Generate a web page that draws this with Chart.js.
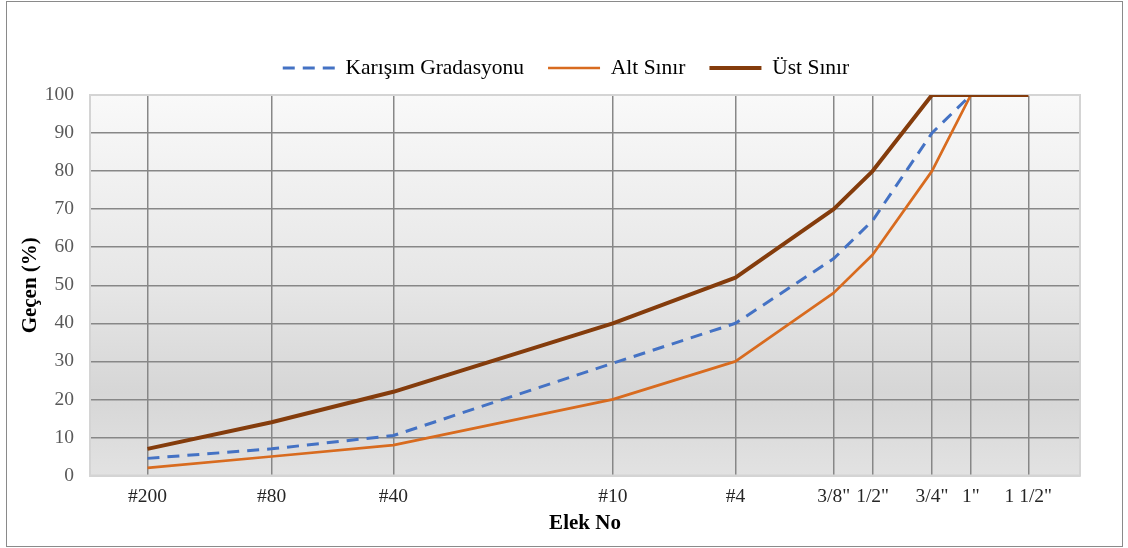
<!DOCTYPE html>
<html lang="tr">
<head>
<meta charset="utf-8">
<title>Gradasyon Eğrisi</title>
<script src="https://cdn.jsdelivr.net/npm/chart.js@4.4.1/dist/chart.umd.min.js"></script>
<style>
  html, body { margin: 0; padding: 0; background: #fff; }
  #wrap { position: relative; width: 1128px; height: 548px; }
  canvas { display: block; }
</style>
</head>
<body>
<div id="wrap"><canvas id="c" width="1128" height="548"></canvas></div>
<script>
// Sieve names and openings in mm (x axis is logarithmic in opening size)
const SIEVES     = ['#200', '#80', '#40', '#10', '#4', '3/8"', '1/2"', '3/4"', '1"', '1 1/2"'];
const OPENING_MM = [0.075, 0.18, 0.425, 2, 4.75, 9.5, 12.5, 19, 25, 37.5];

// Percent passing for each sieve
const KARISIM   = [4.5, 7, 10.5, 29.5, 40, 57, 67, 90, 100, null];
const ALT_SINIR = [2, 5, 8, 20, 30, 48, 58, 80, 100, 100];
const UST_SINIR = [7, 14, 22, 40, 52, 70, 80, 100, 100, 100];

// Y axis tick values
const Y_TICKS = [0, 10, 20, 30, 40, 50, 60, 70, 80, 90, 100];

// Layout of the plot rectangle and legend
const W = 1128, H = 548;
const PLOT = { left: 90, top: 95, right: 1080, bottom: 475.5 };
const LEGEND_CENTER = { x: 566, y: 68 };
const SERIF = "'Liberation Serif', 'Times New Roman', serif";

const toPoints = (vals) => vals
  .map((v, i) => (v === null ? null : { x: OPENING_MM[i], y: v }))
  .filter(p => p !== null);

const framePlugin = {
  id: 'frame',
  beforeLayout(chart) {
    const lg = chart.legend;
    if (lg && !lg.$bandFit) {
      const fit = lg.fit;
      lg.fit = function () { fit.call(this); this.height = PLOT.top; };
      lg.$bandFit = true;
    }
  },
  afterLayout(chart) {
    const lg = chart.legend;
    if (!lg) return;
    const w = lg.right - lg.left;
    lg.left = LEGEND_CENTER.x - w / 2;
    lg.right = LEGEND_CENTER.x + w / 2;
    const pad = lg.options.labels.padding;
    const fs = lg.options.labels.font.size;
    const h = lg.bottom - lg.top;
    lg.top = LEGEND_CENTER.y - pad - fs / 2;
    lg.bottom = lg.top + h;
  },
  beforeDraw(chart) {
    const { ctx, chartArea: a } = chart;
    ctx.save();
    ctx.fillStyle = '#ffffff';
    ctx.fillRect(0, 0, W, H);
    ctx.strokeStyle = '#8a8a8a';
    ctx.lineWidth = 1;
    ctx.strokeRect(6.5, 1.5, 1116, 545);
    const g = ctx.createLinearGradient(0, a.top, 0, a.bottom);
    g.addColorStop(0, '#f9f9f9');
    g.addColorStop(0.5, '#e6e6e6');
    g.addColorStop(0.78, '#d6d6d6');
    g.addColorStop(1, '#e2e2e2');
    ctx.fillStyle = g;
    ctx.fillRect(a.left, a.top, a.right - a.left, a.bottom - a.top);
    ctx.restore();
  },
  beforeDatasetsDraw(chart) {
    const { ctx, chartArea: a } = chart;
    ctx.save();
    ctx.strokeStyle = '#d4d4d4';
    ctx.lineWidth = 2;
    ctx.strokeRect(a.left, a.top, a.right - a.left, a.bottom - a.top);
    ctx.restore();
  }
};

new Chart(document.getElementById('c'), {
  type: 'line',
  data: {
    datasets: [
      {
        label: 'Karışım Gradasyonu',
        data: toPoints(KARISIM),
        borderColor: '#4472C4',
        borderWidth: 3,
        borderDash: [12, 8],
        order: 0
      },
      {
        label: 'Alt Sınır',
        data: toPoints(ALT_SINIR),
        borderColor: '#D86B1F',
        borderWidth: 2.7,
        order: 2
      },
      {
        label: 'Üst Sınır',
        data: toPoints(UST_SINIR),
        borderColor: '#843C0C',
        borderWidth: 4,
        order: 1
      }
    ]
  },
  options: {
    responsive: false,
    animation: false,
    devicePixelRatio: 1,
    parsing: false,
    elements: {
      point: { radius: 0, hoverRadius: 0 },
      line: { tension: 0, fill: false, borderCapStyle: 'butt', borderJoinStyle: 'round' }
    },
    layout: { padding: { left: 0, right: W - PLOT.right, top: 0, bottom: 0 } },
    plugins: {
      tooltip: { enabled: false },
      legend: {
        position: 'top',
        align: 'center',
        labels: {
          usePointStyle: true,
          pointStyleWidth: 52,
          padding: 24,
          color: '#000',
          font: { family: SERIF, size: 21.5 },
          generateLabels(chart) {
            return chart.data.datasets.map((ds, i) => ({
              text: ds.label,
              datasetIndex: i,
              pointStyle: 'line',
              fillStyle: ds.borderColor,
              strokeStyle: ds.borderColor,
              lineWidth: ds.borderWidth,
              lineDash: ds.borderDash || [],
              lineCap: 'butt',
              hidden: false
            }));
          }
        }
      }
    },
    scales: {
      x: {
        type: 'logarithmic',
        min: 0.05,
        max: 54,
        afterBuildTicks(scale) { scale.ticks = OPENING_MM.map(v => ({ value: v })); },
        afterFit(scale) { scale.height = H - PLOT.bottom; },
        grid: { color: '#878787', lineWidth: 1.5, drawTicks: false },
        border: { display: true, color: '#d4d4d4', width: 2 },
        ticks: {
          autoSkip: false,
          maxRotation: 0,
          padding: 10,
          color: '#262626',
          font: { family: SERIF, size: 19.5 },
          callback: (v, i) => SIEVES[i]
        },
        title: {
          display: true,
          text: 'Elek No',
          color: '#000',
          font: { family: SERIF, size: 21, weight: 'bold' },
          padding: { top: 0, bottom: 12 }
        }
      },
      y: {
        type: 'linear',
        min: 0,
        max: 100,
        afterBuildTicks(scale) { scale.ticks = Y_TICKS.map(v => ({ value: v })); },
        afterFit(scale) { scale.width = PLOT.left; },
        grid: {
          drawTicks: false,
          lineWidth: 1.5,
          color: (c) => (c.tick && (c.tick.value === 0 || c.tick.value === 100)) ? '#d4d4d4' : '#878787'
        },
        border: { display: true, color: '#d4d4d4', width: 2 },
        ticks: {
          padding: 16,
          color: '#595959',
          font: { family: SERIF, size: 19.5 },
          callback: (v) => String(v)
        },
        title: {
          display: true,
          text: 'Geçen (%)',
          color: '#000',
          font: { family: SERIF, size: 21, weight: 'bold' },
          padding: { top: 18, bottom: 0 }
        }
      }
    }
  },
  plugins: [framePlugin]
});
</script>
</body>
</html>
